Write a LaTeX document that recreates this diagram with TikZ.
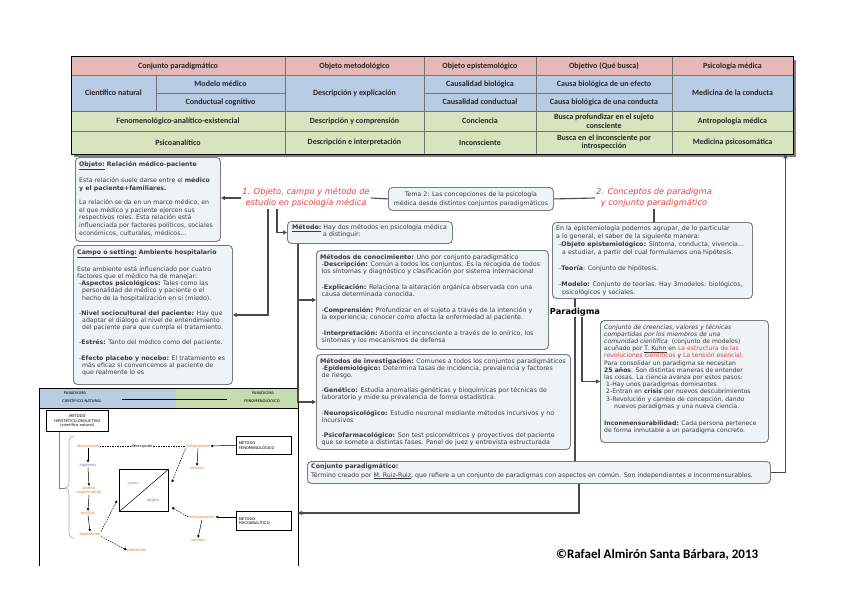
\documentclass[tikz,border=0pt]{standalone}
\usepackage{fontspec}
\setmainfont{DejaVu Sans}
\newfontfamily\calib{Carlito}
\usetikzlibrary{arrows.meta}
\definecolor{pinkh}{HTML}{E6B9B8}
\definecolor{blueh}{HTML}{B8CCE4}
\definecolor{greenh}{HTML}{D7E4BD}
\definecolor{boxfill}{HTML}{EEF3F5}
\definecolor{boxline}{HTML}{7A7A7A}
\definecolor{txt}{HTML}{3C3C3C}
\definecolor{redt}{HTML}{E8413C}
\definecolor{conncol}{HTML}{4A4A4A}
\definecolor{imgblue}{HTML}{B8CCE4}
\definecolor{imggreen}{HTML}{C6DBAE}
\definecolor{iorange}{HTML}{E07B2A}
\definecolor{iblue}{HTML}{4F81BD}
\begin{document}
\begin{tikzpicture}[x=1pt,y=-1pt,
  cbox/.style={draw=boxline, fill=boxfill, line width=0.9pt, rounded corners=4pt, anchor=north west, inner sep=0pt},
  btxt/.style={anchor=north west, inner sep=0pt, align=left, text=txt},
  conn/.style={draw=conncol, line width=1.1pt},
  arr/.style={-{Triangle[length=4pt,width=4pt]}},
  tline/.style={draw=black!55, line width=0.5pt},
  tcell/.style={font=\calib\bfseries\fontsize{8}{8.6}\selectfont, align=center, inner sep=0pt, text=black!85},
  rtitle/.style={font=\itshape\fontsize{8.3}{11}\selectfont, text=redt, align=center, inner sep=1pt},
  itxt/.style={font=\fontsize{3.7}{4.3}\selectfont, inner sep=0.5pt},
  ibox/.style={draw, line width=0.6pt, anchor=north west, inner sep=1pt, font=\fontsize{3.7}{4.4}\selectfont},
  iarr/.style={-{Triangle[length=2.5pt,width=2.5pt]}, line width=0.5pt},
  idl/.style={line width=0.5pt, dash pattern=on 1.5pt off 1pt},
  idarr/.style={iarr, dash pattern=on 1.5pt off 1pt}
]
\useasboundingbox (0,0) rectangle (848,599);
\fill[white] (0,0) rectangle (848,599);

% ---------------- table ----------------
\fill[black!50] (74,60) rectangle (796,157);
\node[minimum width=722pt, minimum height=97pt, anchor=north west, inner sep=0pt] (table) at (71,57) {};
\fill[pinkh] (71,57) rectangle (793,75);
\fill[blueh] (71,75) rectangle (793,111);
\fill[greenh] (71,111) rectangle (793,154);
\draw[tline] (71,75) -- (793,75);
\draw[tline] (71,111) -- (793,111);
\draw[tline] (71,131) -- (793,131);
\draw[tline] (156,93) -- (285,93);
\draw[tline] (424,93) -- (672,93);
\draw[tline] (156,75) -- (156,111);
\foreach \cx in {285,424,536,672} { \draw[tline] (\cx,57) -- (\cx,154); }
\draw[black, line width=1pt] (table.north west) rectangle (table.south east);

\node[tcell] (c1) at (178,66) {Conjunto paradigmático};
\node[tcell] (c2) at (354.5,66) {Objeto metodológico};
\node[tcell] (c3) at (480,66) {Objeto epistemológico};
\node[tcell] (c4) at (604,66) {Objetivo (Qué busca)};
\node[tcell] (c5) at (732.5,66) {Psicología médica};
\node[tcell] (c6) at (113.5,93) {Científico natural};
\node[tcell] (c7) at (220.5,84) {Modelo médico};
\node[tcell] (c8) at (220.5,102) {Conductual cognitivo};
\node[tcell] (c9) at (354.5,93) {Descripción y explicación};
\node[tcell] (c10) at (480,84) {Causalidad biológica};
\node[tcell] (c11) at (480,102) {Causalidad conductual};
\node[tcell] (c12) at (604,84) {Causa biológica de un efecto};
\node[tcell] (c13) at (604,102) {Causa biológica de una conducta};
\node[tcell] (c14) at (732.5,93) {Medicina de la conducta};
\node[tcell] (c15) at (178,121) {Fenomenológico-analítico-existencial};
\node[tcell] (c16) at (354.5,121) {Descripción y comprensión};
\node[tcell] (c17) at (480,121) {Conciencia};
\node[tcell] (c18) at (604,121) {Busca profundizar en el sujeto\\consciente};
\node[tcell] (c19) at (732.5,121) {Antropología médica};
\node[tcell] (c20) at (178,142.5) {Psicoanalítico};
\node[tcell] (c21) at (354.5,142.5) {Descripción e interpretación};
\node[tcell] (c22) at (480,142.5) {Inconsciente};
\node[tcell] (c23) at (604,142.5) {Busca en el inconsciente por\\introspección};
\node[tcell] (c24) at (732.5,142.5) {Medicina psicosomática};

% ---------------- boxes ----------------
\node[cbox, minimum width=145pt, minimum height=84pt] (objeto) at (75,157) {};
\node[btxt, font=\fontsize{6.2}{7.6}\selectfont] (objetoT) at (79,161) {\textbf{\underline{Objeto:}} \textbf{Relación médico-paciente}\\[7pt]
Esta relación suele darse entre el \textbf{médico}\\
\textbf{y el paciente+familiares.}\\[7pt]
La relación se da en un marco médico, en\\
el que médico y paciente ejercen sus\\
respectivos roles. Esta relación está\\
influenciada por factores políticos, sociales\\
económicos, culturales, médicos...};

\node[cbox, minimum width=159pt, minimum height=139pt] (campo) at (73,245) {};
\node[btxt, font=\fontsize{6.2}{7.2}\selectfont] (campoT) at (77,250) {\textbf{\underline{Campo o setting:}} \textbf{Ambiente hospitalario}\\[7pt]
Este ambiente está influenciado por cuatro\\
factores que el médico ha de manejar:\\
\hspace*{2pt}-\textbf{Aspectos psicológicos:} Tales como las\\
\hspace*{5pt}personalidad de médico y paciente o el\\
\hspace*{5pt}hecho de la hospitalización en sí (miedo).\\[8pt]
\hspace*{2pt}-\textbf{Nivel sociocultural del paciente:} Hay que\\
\hspace*{5pt}adaptar el diálogo al nivel de entendimiento\\
\hspace*{5pt}del paciente para que cumpla el tratamiento.\\[8pt]
\hspace*{2pt}-\textbf{Estrés:} Tanto del médico como del paciente.\\[8pt]
\hspace*{2pt}-\textbf{Efecto placebo y nocebo:} El tratamiento es\\
\hspace*{5pt}más eficaz si convencemos al paciente de\\
\hspace*{5pt}que realmente lo es};

\node[rtitle] (title1) at (306,198) {1. Objeto, campo y método de\\estudio en psicología médica};
\node[cbox, minimum width=165pt, minimum height=23pt, align=center, text=txt, font=\fontsize{6.2}{9}\selectfont] (tema) at (388,187) {Tema 2: Las concepciones de la psicología\\médica desde distintos conjuntos paradigmáticos};
\node[rtitle] (title2) at (654,198) {2. Conceptos de paradigma\\y conjunto paradigmático};

\node[cbox, minimum width=165pt, minimum height=22pt] (metodo) at (287,221) {};
\node[btxt, font=\fontsize{6.3}{7.3}\selectfont] (metodoT) at (292,224) {\textbf{\underline{Método:}} Hay dos métodos en psicología médica\\
\hspace*{31pt}a distinguir:};

\node[cbox, minimum width=232pt, minimum height=99pt] (conoc) at (316,250) {};
\node[btxt, font=\fontsize{6.3}{7.2}\selectfont] (conocT) at (320,254) {\textbf{Métodos de conocimiento:} Uno por conjunto paradigmático\\
\hspace*{1.5pt}-\textbf{Descripción:} Común a todos los conjuntos. Es la recogida de todos\\
\hspace*{1.5pt}los síntomas y diagnóstico y clasificación por sistema internacional\\[8.5pt]
\hspace*{1.5pt}-\textbf{Explicación:} Relaciona la alteración orgánica observada con una\\
\hspace*{1.5pt}causa determinada conocida.\\[8.5pt]
\hspace*{1.5pt}-\textbf{Comprensión:} Profundizar en el sujeto a través de la intención y\\
\hspace*{1.5pt}la experiencia; conocer como afecta la enfermedad al paciente.\\[8.5pt]
\hspace*{1.5pt}-\textbf{Interpretación:} Aborda el inconsciente a través de lo onírico, los\\
\hspace*{1.5pt}síntomas y los mecanismos de defensa};

\node[cbox, minimum width=254pt, minimum height=95pt] (invest) at (316,354) {};
\node[btxt, font=\fontsize{6.3}{7}\selectfont] (investT) at (320,358) {\textbf{Métodos de investigación:} Comunes a todos los conjuntos paradigmáticos\\
\hspace*{1.5pt}-\textbf{Epidemiológico:} Determina tasas de incidencia, prevalencia y factores\\
\hspace*{1.5pt}de riesgo.\\[8.5pt]
\hspace*{1.5pt}-\textbf{Genético:} Estudia anomalías genéticas y bioquímicas por técnicas de\\
\hspace*{1.5pt}laboratorio y mide su prevalencia de forma estadística.\\[8.5pt]
\hspace*{1.5pt}-\textbf{Neuropsicológico:} Estudio neuronal mediante métodos incursivos y no\\
\hspace*{1.5pt}incursivos\\[8.5pt]
\hspace*{1.5pt}-\textbf{Psicofarmacológico:} Son test psicométricos y proyectivos del paciente\\
\hspace*{1.5pt}que se somete a distintas fases. Panel de juez y entrevista estructurada};

\node[cbox, minimum width=463pt, minimum height=22pt] (conj) at (307,461) {};
\node[btxt, font=\fontsize{6.25}{8.5}\selectfont] (conjT) at (311,463.5) {\textbf{Conjunto paradigmático:}\\
Término creado por \underline{M. Ruiz-Ruiz}, que refiere a un conjunto de paradigmas con aspectos en común. Son independientes e inconmensurables.};

\node[cbox, minimum width=200pt, minimum height=76pt] (epist) at (552,222) {};
\node[btxt, font=\fontsize{6.3}{8}\selectfont] (epistT) at (556,225) {En la epistemiología podemos agrupar, de lo particular\\
a lo general, el saber de la siguiente manera:\\
\hspace*{3pt}-\textbf{Objeto epistemiológico:} Síntoma, conducta, vivencia...\\
\hspace*{6pt}a estudiar, a partir del cual formulamos una hipótesis.\\[8pt]
\hspace*{3pt}-\textbf{Teoría}: Conjunto de hipótesis.\\[8pt]
\hspace*{3pt}-\textbf{Modelo:} Conjunto de teorías. Hay 3modelos: biológicos,\\
\hspace*{6pt}psicológicos y sociales.};

\node[font=\bfseries\fontsize{8.3}{10}\selectfont, inner sep=1pt] (paralbl) at (575,312) {Paradigma};

\node[cbox, minimum width=168pt, minimum height=122pt] (parabox) at (600,320) {};
\node[btxt, font=\fontsize{6.1}{7.2}\selectfont] (paraT) at (604,324) {{\itshape Conjunto de creencias, valores y técnicas}\\
{\itshape compartidas por los miembros de una}\\
{\itshape comunidad científica}\ \ (conjunto de modelos)\\
acuñado por \underline{T. Kuhn} en \textcolor{redt}{La estructura de las}\\
\textcolor{redt}{revoluciones científicas} y \textcolor{redt}{La tensión esencial.}\\
Para consolidar un paradigma se necesitan\\
\textbf{25 años}. Son distintas maneras de entender\\
las cosas. La ciencia avanza por estos pasos:\\
\hspace*{2pt}1-Hay unos paradigmas dominantes\\
\hspace*{2pt}2-Entran en \textbf{crisis} por nuevos descubrimientos\\
\hspace*{2pt}3-Revolución y cambio de concepción, dando\\
\hspace*{10pt}nuevos paradigmas y una nueva ciencia.\\[10pt]
\textbf{Inconmensurabilidad:} Cada persona pertenece\\
de forma inmutable a un paradigma concreto.};

\node[font=\calib\bfseries\fontsize{13}{15}\selectfont, anchor=west, inner sep=0pt] (copy) at (556,555) {©Rafael Almirón Santa Bárbara, 2013};

% ---------------- embedded figure ----------------
\node[minimum width=259pt, minimum height=178pt, anchor=north west, inner sep=0pt] (img) at (39,388) {};
\fill[imgblue] (39,388) rectangle (176,408);
\fill[imggreen] (176,388) rectangle (298,408);
\draw[black, line width=0.6pt] (39,566) -- (39,388) -- (298,388) -- (298,566);
\draw[black, line width=0.8pt] (39,408) -- (298,408);
\coordinate (imgin) at (298,513);
\coordinate (bracetip) at (65,488);

\node[itxt] (h1) at (75,393) {PARADIGMA};
\node[itxt] (h2) at (82,400.5) {CIENTÍFICO-NATURAL};
\node[itxt] (h3) at (263,393) {PARADIGMA};
\node[itxt] (h4) at (262,400.5) {FENOMENOLÓGICO};
\draw[line width=0.6pt] (122,399) -- (227,399);

\node[ibox, minimum width=62pt, minimum height=21pt, align=center] (mA) at (46,410) {MÉTODO\\HIPOTÉTICO-DEDUCTIVO\\(científico-natural)};
\draw[gray, line width=0.6pt] ([xshift=-18pt]mA.south) |- (bracetip);
\draw[gray!70, line width=0.6pt] (74,436) .. controls (69,436) and (69,440) .. (69,445) -- (69,482) .. controls (69,486) and (67,488) .. (65,488) .. controls (67,488) and (69,490) .. (69,494) -- (69,530) .. controls (69,536) and (70,538) .. (74,538);

\node[itxt, text=iorange] (obs) at (88,446) {observación};
\node[itxt, text=iblue] (hip) at (88,465) {hipótesis};
\node[itxt, text=iorange, align=center] (dis) at (89,490.5) {diseño\\experimental};
\node[itxt, text=iorange] (ana) at (88,513) {análisis};
\node[itxt, text=iorange] (expl) at (90,534) {explicación};
\node[itxt, text=iorange] (pred) at (137,550) {predicción};
\draw[iarr] (obs.south) -- (hip.north);
\draw[iarr] (hip.south) -- (dis.north);
\draw[iarr] (dis.south) -- (ana.north);
\draw[iarr] (ana.south) -- (expl.north);

\node[itxt] (desc) at (142,446) {descripción};
\node[itxt, text=iorange] (comp) at (198,446) {comprensión};
\draw[idl] (obs.east) -- (desc.west);
\draw[idl] (desc.east) -- (comp.west);

\node[ibox, minimum width=55pt, minimum height=18pt, text width=50pt, align=left] (fen) at (236,436) {MÉTODO\\FENOMENOLÓGICO};
\draw[iarr] (fen.west) -- (comp.east);
\node[itxt, text=iorange] (sint) at (197,468) {síntesis};
\draw[iarr] (comp.south) -- (sint.north);

\node[draw, line width=0.8pt, minimum width=49pt, minimum height=42pt, anchor=north west, inner sep=0pt] (sq) at (119,469) {};
\draw[line width=0.5pt] (sq.south west) -- (sq.north east);
\node[itxt, text=iorange] (suj) at (133,483) {sujeto};
\node[itxt, text=iblue] (obj) at (153,500) {objeto};

\node[ibox, minimum width=55pt, minimum height=19pt, text width=50pt, align=left] (psi) at (236,511) {MÉTODO\\PSICOANALÍTICO};
\node[itxt, text=iorange] (interp) at (202,517) {interpretación};
\draw[iarr] (psi.west |- interp.east) -- (interp.east);
\node[itxt, text=iorange] (sent) at (198,540) {sentido};
\draw[iarr] (interp.south) -- (sent.north);

\draw[idarr] (comp.south west) -- ([xshift=3pt,yshift=8pt]sq.east);
\draw[idarr] (interp.west) -- ([xshift=3pt,yshift=-17pt]sq.east);
\draw[idarr] (expl.north east) -- ([xshift=-2pt,yshift=-10pt]sq.west);
\draw[idarr] (expl.south east) -- (pred.west);

% ---------------- connectors ----------------
\draw[conn,arr] (title1.west) -- (title1.west -| objeto.east);
\draw[conn] (title1.east) -- (tema.west);
\draw[conn] (tema.east) -- (title2.west);
\draw[conn,arr] ([xshift=-38pt]title1.south) |- (campo.east);
\draw[conn,arr] ([xshift=-29pt]title1.south) |- (metodo.west);
\draw[conn,arr] ([xshift=11pt]metodo.south west) |- (conoc.west);
\draw[conn,arr] ([xshift=11pt]metodo.south west) |- (invest.west);
\draw[conn] (title2.south) -- (title2.south |- epist.north);
\draw[conn] (epist.south -| paralbl.north) -- (paralbl.north);
\draw[conn,arr] ([xshift=7pt]paralbl.south) |- (parabox.west);
\draw[conn] (paralbl.south) -- (paralbl.south |- conj.north);
\draw[conn,arr] (conj.east) -| ([xshift=-8pt]table.south east);
\draw[conn,arr] ([xshift=40pt]conj.south) |- (imgin);
\end{tikzpicture}
\end{document}
